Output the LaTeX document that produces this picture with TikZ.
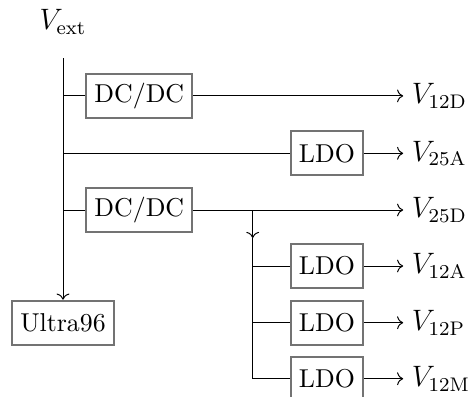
\documentclass[tikz,border=0pt]{standalone}
\usepackage{amsmath}
\usepackage{tikz}
\usetikzlibrary{arrows.meta,positioning,calc}

\begin{document}
\begin{tikzpicture}[
    font=\normalsize,
    blk/.style={draw=black!55, thick, inner sep=3.33pt, minimum height=0.63cm, font=\fontsize{10.5}{12.6}\selectfont},
    rail/.style={anchor=west, inner sep=3.33pt, font=\large},
    arr/.style={->},
    wire/.style={-}
]
    \useasboundingbox (0,0) rectangle (6.7,-5.657);

    \node[font=\large] (vext) at (0.9,-0.31) {$V_{\mathrm{ext}}$};
    \coordinate (top) at (0.9,-0.83);

    \node[blk] (dc1) at (1.99,-1.37) {DC/DC};
    \node[blk] (ldo25a) at (4.67,-2.19) {LDO};
    \node[blk] (dc2) at (1.99,-3.0) {DC/DC};
    \node[blk] (ldo12a) at (4.67,-3.8) {LDO};
    \node[blk] (ldo12p) at (4.67,-4.61) {LDO};
    \node[blk] (ldo12m) at (4.67,-5.41) {LDO};
    \node[blk] (ultra) at (0.9,-4.61) {Ultra96};

    \node[rail] (v12d) at (5.76,-1.37) {$V_{\mathrm{12D}}$};
    \node[rail] (v25a) at (5.76,-2.19) {$V_{\mathrm{25A}}$};
    \node[rail] (v25d) at (5.76,-3.0) {$V_{\mathrm{25D}}$};
    \node[rail] (v12a) at (5.76,-3.8) {$V_{\mathrm{12A}}$};
    \node[rail] (v12p) at (5.76,-4.61) {$V_{\mathrm{12P}}$};
    \node[rail] (v12m) at (5.76,-5.41) {$V_{\mathrm{12M}}$};

    % main bus
    \draw[arr] (top) -- (ultra.north);
    \draw[wire] (top |- dc1) -- (dc1);
    \draw[wire] (top |- ldo25a) -- (ldo25a);
    \draw[wire] (top |- dc2) -- (dc2);

    % outputs
    \draw[arr] (dc1) -- (v12d);
    \draw[arr] (ldo25a) -- (v25a);
    \draw[arr] (dc2) -- (v25d);
    \draw[arr] (ldo12a) -- (v12a);
    \draw[arr] (ldo12p) -- (v12p);
    \draw[arr] (ldo12m) -- (v12m);

    % 2.5D branch
    \coordinate (split) at (3.61,-3.0);
    \coordinate (tap) at (3.61,-3.4);
    \draw[arr] (split) -- (tap);
    \draw[wire] (tap) -- (split |- ldo12m) -- (ldo12m);
    \draw[wire] (split |- ldo12a) -- (ldo12a);
    \draw[wire] (split |- ldo12p) -- (ldo12p);
\end{tikzpicture}
\end{document}
